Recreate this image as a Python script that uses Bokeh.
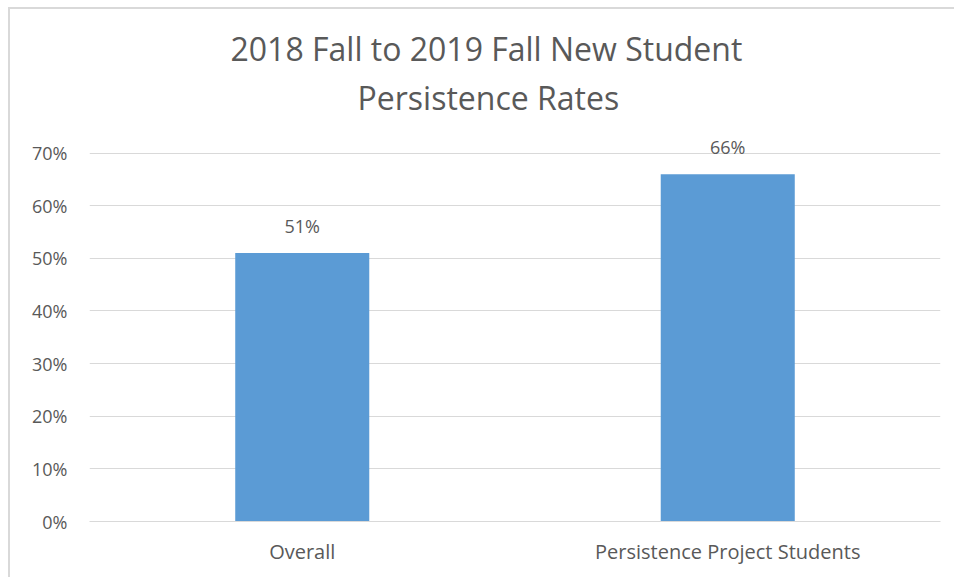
from bokeh.plotting import figure
from bokeh.models import ColumnDataSource, FactorRange, Range1d, NumeralTickFormatter, FixedTicker, LabelSet, Title
from bokeh.embed import file_html
from bokeh.resources import INLINE
from bokeh.core.properties import value

categories = ["Overall", "Persistence Project Students"]
rates = [0.51, 0.66]
rate_labels = ["51%", "66%"]
y_ticks = [0, 0.1, 0.2, 0.3, 0.4, 0.5, 0.6, 0.7]
title_lines = ["2018 Fall to 2019 Fall New Student", "Persistence Rates"]

FONT = "Open Sans"
TXT = "#595959"

source = ColumnDataSource(dict(cat=categories, rate=rates, lab=rate_labels))

p = figure(width=946, height=570, x_range=FactorRange(*categories, range_padding=0),
           y_range=Range1d(0, 0.76), output_backend="svg", toolbar_location=None,
           min_border_left=79, min_border_right=16, min_border_bottom=58, min_border_top=112)
p.styles = {"margin-left": "8px", "margin-top": "7px",
            "border-left": "2px solid #d9d9d9", "border-top": "2px solid #d9d9d9"}

p.vbar(x="cat", top="rate", width=0.315, source=source, color="#5B9BD5", line_color=None)

labels = LabelSet(x="cat", y="rate", text="lab", source=source, text_align="center",
                  text_baseline="bottom", y_offset=15, text_color=TXT,
                  text_font=value(FONT), text_font_size="18px")
p.add_layout(labels)

t2 = Title(text=title_lines[1], align="left", offset=268,
           text_font=FONT, text_font_size="32px", text_font_style="normal",
           text_color=TXT, standoff=5)
t1 = Title(text=title_lines[0], align="left", offset=141,
           text_font=FONT, text_font_size="32px", text_font_style="normal",
           text_color=TXT, standoff=4)
p.add_layout(t2, "above")
p.add_layout(t1, "above")

p.outline_line_color = None
p.background_fill_color = "white"
p.border_fill_color = "white"

p.yaxis.ticker = FixedTicker(ticks=y_ticks)
p.yaxis.formatter = NumeralTickFormatter(format="0%")
p.yaxis.axis_line_color = None
p.yaxis.major_tick_line_color = None
p.yaxis.minor_tick_line_color = None
p.yaxis.major_tick_out = 0
p.yaxis.major_tick_in = 0
p.yaxis.minor_tick_out = 0
p.yaxis.major_label_standoff = 22
p.yaxis.major_label_text_font = FONT
p.yaxis.major_label_text_font_size = "18px"
p.yaxis.major_label_text_color = TXT

p.xaxis.axis_line_color = "#d9d9d9"
p.xaxis.axis_line_width = 1
p.xaxis.major_tick_line_color = None
p.xaxis.minor_tick_line_color = None
p.xaxis.major_tick_out = 0
p.xaxis.major_tick_in = 0
p.xaxis.minor_tick_out = 0
p.xaxis.major_label_standoff = 16
p.xaxis.major_label_text_font = FONT
p.xaxis.major_label_text_font_size = "20px"
p.xaxis.major_label_text_color = TXT

p.xgrid.grid_line_color = None
p.ygrid.grid_line_color = "#d9d9d9"
p.ygrid.grid_line_width = 1

open("out.html", "w").write(file_html(p, INLINE))
